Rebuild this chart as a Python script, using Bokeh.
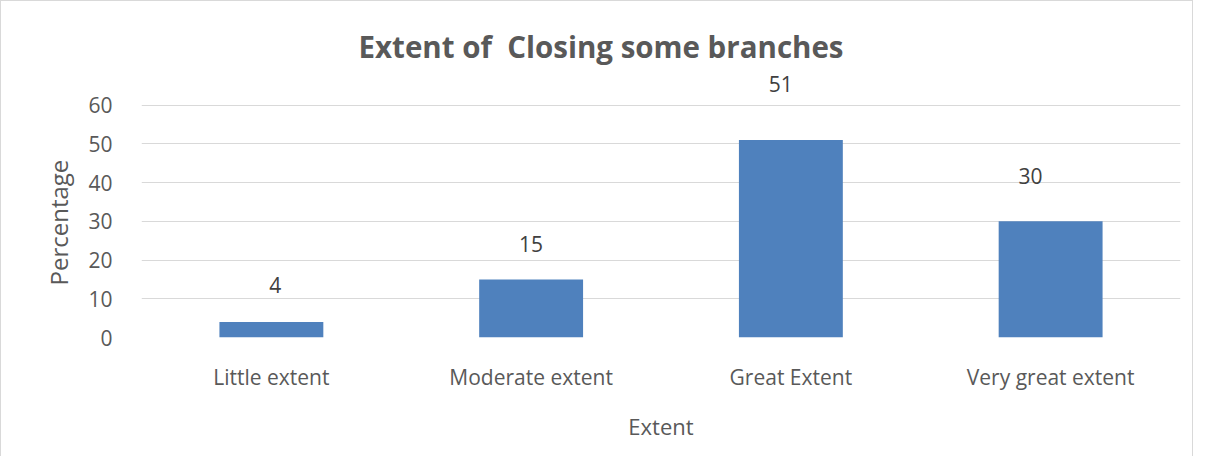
from bokeh.plotting import figure
from bokeh.models import ColumnDataSource, LabelSet, FixedTicker, Title
from bokeh.core.properties import value
from bokeh.embed import file_html
from bokeh.resources import INLINE

categories = ["Little extent", "Moderate extent", "Great Extent", "Very great extent"]
percentages = [4, 15, 51, 30]
y_ticks = [0, 10, 20, 30, 40, 50, 60]

# label nudges (pixels), as positioned in the original chart
label_dx = [4, 0, -10, -20]
label_dy = [37, 35, 56, 45]

FONT = "Open Sans"
GRAY = "#595959"

src = ColumnDataSource(dict(cat=categories, val=percentages,
                            txt=[str(v) for v in percentages],
                            dx=label_dx, dy=label_dy))

p = figure(x_range=categories, y_range=(0, 70), width=1193, height=456,
           output_backend="svg", toolbar_location=None,
           min_border_left=140, min_border_right=14, min_border_top=65, min_border_bottom=120)
p.styles = {"border-top": "1px solid #D9D9D9", "border-left": "1px solid #D9D9D9",
            "border-right": "1px solid #D9D9D9"}
p.outline_line_color = None

p.title.text = "Extent of \u00a0Closing some branches"
p.title.align = "left"
p.title.offset = 217
p.title.standoff = 0
p.title.text_font = FONT
p.title.text_font_size = "29.5px"
p.title.text_font_style = "bold"
p.title.text_color = GRAY

p.vbar(x="cat", top="val", width=0.4, source=src, fill_color="#4F81BD", line_color=None)

labels = LabelSet(x="cat", y="val", text="txt", source=src, x_offset="dx", y_offset="dy",
                  text_align="center", text_baseline="middle", text_font=value(FONT),
                  text_font_size=value("21px"), text_color="#404040")
p.add_layout(labels)

p.ygrid.grid_line_color = "#D9D9D9"
p.xgrid.grid_line_color = None
p.yaxis.ticker = FixedTicker(ticks=y_ticks)

for ax in (p.xaxis[0], p.yaxis[0]):
    ax.axis_line_color = None
    ax.major_tick_line_color = None
    ax.minor_tick_line_color = None
    ax.major_label_text_font = FONT
    ax.major_label_text_color = GRAY
    ax.axis_label_text_font = FONT
    ax.axis_label_text_font_size = "22px"
    ax.axis_label_text_font_style = "normal"
    ax.axis_label_text_color = GRAY

p.yaxis.major_label_text_font_size = "21px"
p.yaxis.major_label_standoff = 23
p.xaxis.major_label_text_font_size = "21px"
p.xaxis.major_label_standoff = 19
p.xaxis.axis_label = "Extent"
p.xaxis.axis_label_standoff = 17

ytitle = Title(text="Percentage", align="left", offset=52, standoff=21,
               text_font=FONT, text_font_size="24px", text_font_style="normal",
               text_color=GRAY)
p.add_layout(ytitle, "left")

open("out.html", "w").write(file_html(p, INLINE))
